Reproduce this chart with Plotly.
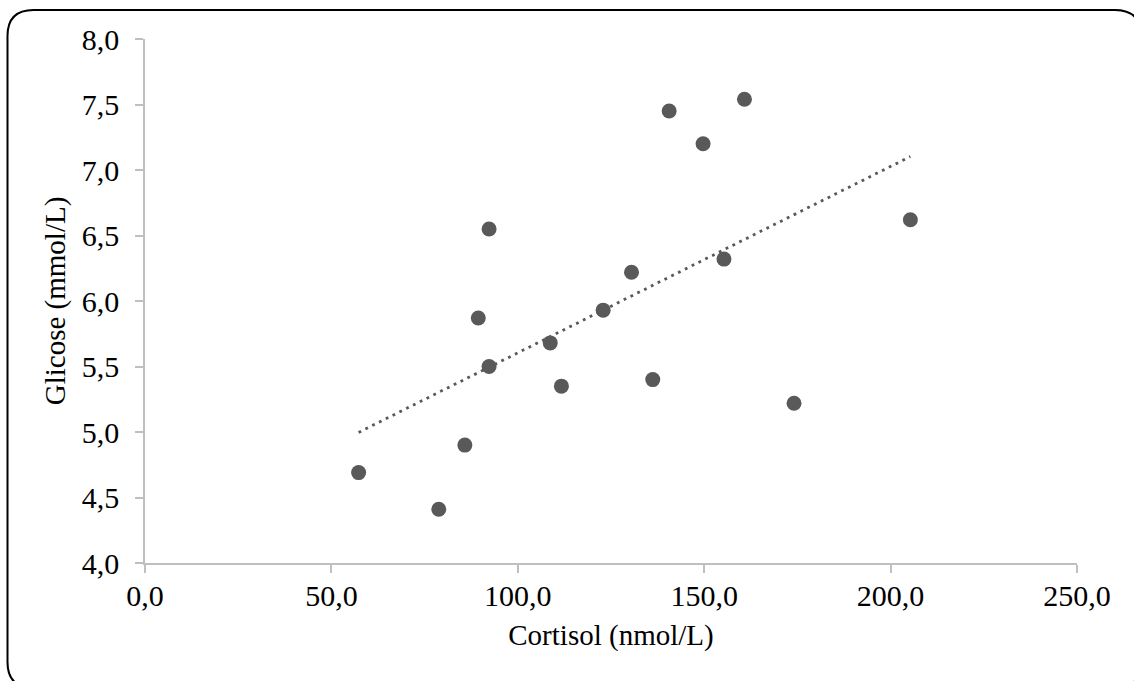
import numpy as np
import plotly.graph_objects as go

# Data
cortisol = [57.3, 78.8, 85.8, 89.4, 92.3, 92.3, 108.7, 111.7, 122.9, 130.5,
            136.2, 140.6, 149.7, 155.3, 160.8, 174.1, 205.3]
glicose = [4.69, 4.41, 4.90, 5.87, 6.55, 5.50, 5.68, 5.35, 5.93, 6.22,
           5.40, 7.45, 7.20, 6.32, 7.54, 5.22, 6.62]

x_ticks = [0, 50, 100, 150, 200, 250]
y_ticks = [4.0, 4.5, 5.0, 5.5, 6.0, 6.5, 7.0, 7.5, 8.0]

W, H = 1134, 681
L, R, T, B = 145, 57, 39, 118

# linear trendline (least squares) over data range
slope, intercept = np.polyfit(cortisol, glicose, 1)
tx = [min(cortisol), max(cortisol)]
ty = [slope * v + intercept for v in tx]

fig = go.Figure()
fig.add_trace(go.Scatter(x=tx, y=ty, mode="lines",
                         line=dict(color="#595959", width=2.8, dash="2.8px,4.8px"),
                         hoverinfo="skip", showlegend=False))
fig.add_trace(go.Scatter(x=cortisol, y=glicose, mode="markers",
                         marker=dict(color="#595959", size=15, line=dict(width=0)),
                         showlegend=False))

font_family = "Liberation Serif, Times New Roman, serif"

fig.update_xaxes(range=[0, 250], tickvals=x_ticks, tickformat=".1f",
                 showgrid=False, zeroline=False, showline=True,
                 linecolor="#bfbfbf", linewidth=1.5,
                 ticks="outside", ticklen=8, tickcolor="#bfbfbf", tickwidth=1.5,
                 ticklabelstandoff=-3,
                 tickfont=dict(family=font_family, size=30, color="black"),
                 title=dict(text="Cortisol (nmol/L)", standoff=14,
                            font=dict(family=font_family, size=29, color="black")))
fig.update_yaxes(range=[4, 8], tickvals=y_ticks, tickformat=".1f",
                 showgrid=False, zeroline=False, showline=True,
                 linecolor="#bfbfbf", linewidth=1.5,
                 ticks="outside", ticklen=8, tickcolor="#bfbfbf", tickwidth=1.5,
                 ticklabelstandoff=10,
                 tickfont=dict(family=font_family, size=30, color="black"),
                 title=dict(text="Glicose (mmol/L)", standoff=8,
                            font=dict(family=font_family, size=29, color="black")))

# rounded outer frame (pixel -> paper coordinates)
pw, ph = W - L - R, H - T - B
def px(xp):
    return (xp - L) / pw
def py(yp):
    return (H - B - yp) / ph

x0, y0, x1, y1, r = 7.5, 10.0, 1141.0, 688.0, 26.0
path = (f"M {px(x0 + r)} {py(y0)} L {px(x1 - r)} {py(y0)} "
        f"Q {px(x1)} {py(y0)} {px(x1)} {py(y0 + r)} "
        f"L {px(x1)} {py(y1 - r)} Q {px(x1)} {py(y1)} {px(x1 - r)} {py(y1)} "
        f"L {px(x0 + r)} {py(y1)} Q {px(x0)} {py(y1)} {px(x0)} {py(y1 - r)} "
        f"L {px(x0)} {py(y0 + r)} Q {px(x0)} {py(y0)} {px(x0 + r)} {py(y0)} Z")
fig.add_shape(type="path", path=path, xref="paper", yref="paper",
              line=dict(color="black", width=2), fillcolor="rgba(0,0,0,0)", layer="below")

fig.update_layout(width=W, height=H, margin=dict(l=L, r=R, t=T, b=B),
                  paper_bgcolor="white", plot_bgcolor="white",
                  separators=", ", showlegend=False,
                  font=dict(family=font_family))

fig.write_html("out.html")
